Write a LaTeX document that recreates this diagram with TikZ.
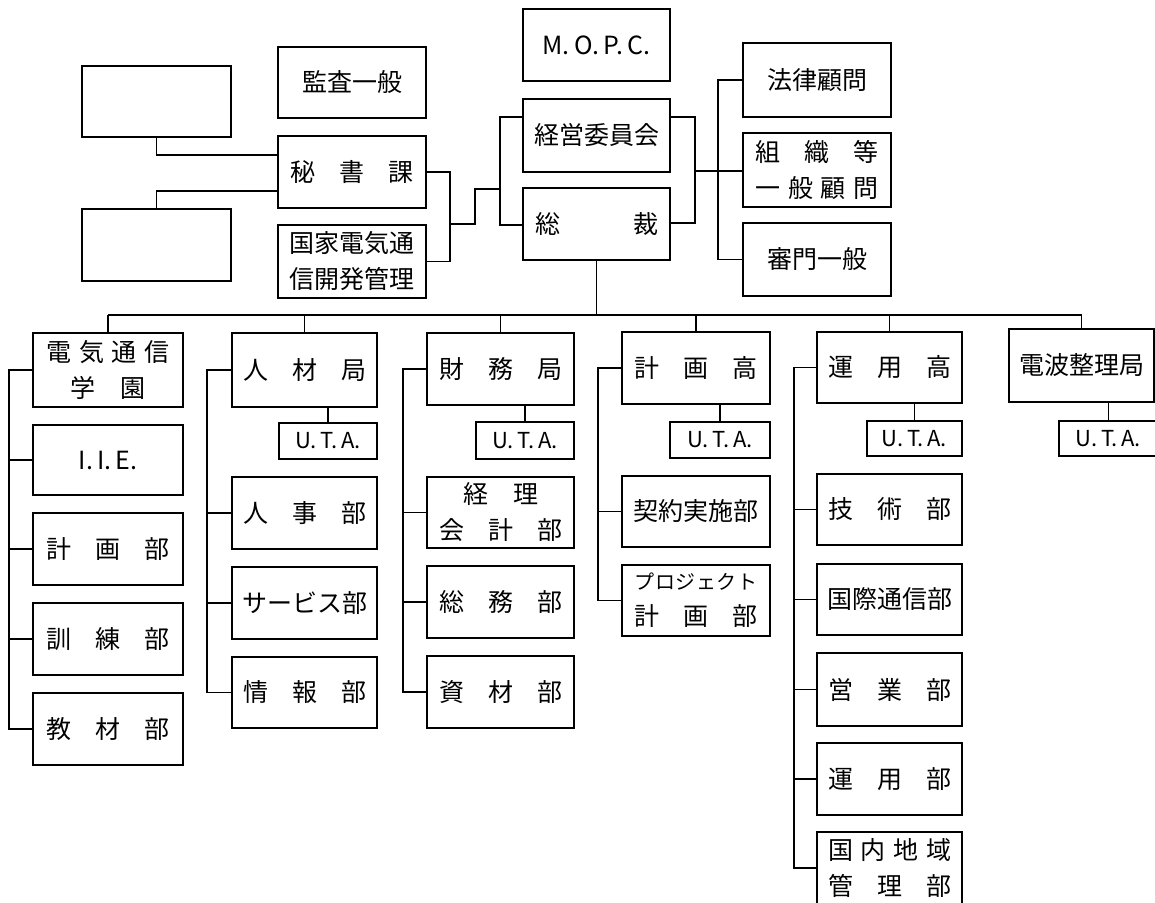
\documentclass[tikz,border=0pt]{standalone}
\usepackage{fontspec}
\setmainfont{Noto Sans CJK JP}
\usetikzlibrary{calc}
\newcommand\sprd[1]{\makebox[123pt]{#1}}
\newcommand\bbox[7]{\node[#1, minimum width={#5-#3}, minimum height={#6-#4}] (#2) at ({(#3+#5)/2},{(#4+#6)/2}) {#7};}
\tikzset{
  thinbox/.style={draw, line width=1.8pt, rectangle, inner sep=0pt, outer sep=0pt, font=\fontsize{25}{36}\selectfont, align=center},
  boss/.style={thinbox, line width=2.8pt},
  blank/.style={thinbox, line width=2.2pt},
  uta/.style={thinbox, font=\fontsize{22}{24}\selectfont},
  conn/.style={line width=1.4pt}
}
\begin{document}
\begin{tikzpicture}[x=1pt,y=-1pt]
\fill[white] (0,0) rectangle (1155,902);
\useasboundingbox (0,0) rectangle (1155,902);
% top part
\bbox{blank}{blankA}{82}{66}{231}{137}{}
\bbox{blank}{blankB}{82}{209}{231}{281}{}
\bbox{blank}{kansa}{278}{47}{426}{118}{監査一般}
\bbox{boss}{hisho}{278}{136}{426}{208}{\sprd{秘\hfill 書\hfill 課}}
\bbox{boss}{kokka}{278}{225}{426}{298}{国家電気通\\信開発管理}
\bbox{boss}{mopc}{523}{9}{670}{81}{M.\,O.\,P.\,C.}
\bbox{boss}{keiei}{523}{99}{670}{172}{経営委員会}
\bbox{boss}{sosai}{523}{188}{670}{260}{\sprd{総\hfill 裁}}
\bbox{boss}{horitsu}{743}{43}{891}{117}{法律顧問}
\bbox{boss}{soshiki}{743}{133}{891}{207}{\sprd{組\hfill 織\hfill 等}\\\sprd{一\hfill 般\hfill 顧\hfill 問}}
\bbox{boss}{shinmon}{743}{223}{891}{296}{審門一般}
% column 1
\bbox{boss}{gakuen}{33}{333}{183}{407}{\sprd{電\hfill 気\hfill 通\hfill 信}\\学\hspace{1em}園}
\bbox{thinbox}{iie}{33}{425}{183}{495}{I.\,I.\,E.}
\bbox{thinbox}{gkeikaku}{33}{513}{183}{585}{\sprd{計\hfill 画\hfill 部}}
\bbox{thinbox}{kunren}{33}{603}{183}{675}{\sprd{訓\hfill 練\hfill 部}}
\bbox{thinbox}{kyozai}{33}{693}{183}{765}{\sprd{教\hfill 材\hfill 部}}
% column 2
\bbox{boss}{jinzai}{232}{333}{377}{407}{\sprd{人\hfill 材\hfill 局}}
\bbox{uta}{uta2}{279}{423}{377}{459}{U.\,T.\,A.}
\bbox{thinbox}{jinji}{232}{477}{377}{549}{\sprd{人\hfill 事\hfill 部}}
\bbox{thinbox}{service}{232}{567}{377}{639}{サービス部}
\bbox{thinbox}{joho}{232}{657}{377}{728}{\sprd{情\hfill 報\hfill 部}}
% column 3
\bbox{boss}{zaimu}{427}{333}{574}{405}{\sprd{財\hfill 務\hfill 局}}
\bbox{uta}{uta3}{476}{422}{574}{459}{U.\,T.\,A.}
\bbox{thinbox}{keiri}{427}{477}{574}{548}{経\hspace{1em}理\\\sprd{会\hfill 計\hfill 部}}
\bbox{thinbox}{somu}{427}{566}{574}{638}{\sprd{総\hfill 務\hfill 部}}
\bbox{thinbox}{shizai}{427}{656}{574}{728}{\sprd{資\hfill 材\hfill 部}}
% column 4
\bbox{boss}{keikaku}{622}{332}{770}{404}{\sprd{計\hfill 画\hfill 高}}
\bbox{uta}{uta4}{670}{422}{770}{458}{U.\,T.\,A.}
\bbox{thinbox}{keiyaku}{622}{476}{770}{547}{契約実施部}
\bbox{thinbox}{project}{622}{565}{770}{636}{{\fontsize{20}{20}\selectfont\sprd{プ\hfill ロ\hfill ジ\hfill ェ\hfill ク\hfill ト}}\\\sprd{計\hfill 画\hfill 部}}
% column 5
\bbox{boss}{unyo}{817}{332}{962}{403}{\sprd{運\hfill 用\hfill 高}}
\bbox{uta}{uta5}{867}{421}{962}{456}{U.\,T.\,A.}
\bbox{thinbox}{gijutsu}{817}{474}{962}{545}{\sprd{技\hfill 術\hfill 部}}
\bbox{thinbox}{kokusai}{817}{564}{962}{635}{国際通信部}
\bbox{thinbox}{eigyo}{817}{653}{962}{726}{\sprd{営\hfill 業\hfill 部}}
\bbox{thinbox}{unyobu}{817}{743}{962}{815}{\sprd{運\hfill 用\hfill 部}}
\bbox{thinbox}{kokunai}{817}{832}{962}{904}{\sprd{国\hfill 内\hfill 地\hfill 域}\\\sprd{管\hfill 理\hfill 部}}
% column 6
\bbox{boss}{denpa}{1009}{329}{1154}{402}{電波整理局}
\bbox{uta}{uta6}{1059}{421}{1158}{456}{U.\,T.\,A.}
% connectors top
\draw[conn] (blankA.south) |- ($(hisho.west)+(0,-17)$);
\draw[conn] (blankB.north) |- ($(hisho.west)+(0,19)$);
\draw[conn] (hisho.east) -- ++(24,0) |- (kokka.east);
\coordinate (j1) at (450,224);
\coordinate (j2) at (500,189);
\draw[conn] (j1) -- ++(25,0) |- (j2);
\draw[conn] ($(keiei.west)+(0,-18.5)$) -| (j2) |- ($(sosai.west)+(0,1)$);
\draw[conn] ($(keiei.east)+(0,-18.5)$) -- ++(25,0) |- ($(sosai.east)+(0,-1)$);
\coordinate (j3) at (695,171);
\draw[conn] (j3) -- (soshiki.west |- j3);
\draw[conn] (horitsu.west) -- ++(-25,0) |- (shinmon.west);
% main bus
\coordinate (bus) at (0,315);
\draw[conn] (sosai.south) -- (sosai.south |- bus);
\draw[conn] (gakuen.north |- bus) -- (denpa.north |- bus);
\foreach \n in {gakuen,jinzai,zaimu,keikaku,unyo,denpa}
  \draw[conn] (\n.north) -- (\n.north |- bus);
\foreach \h/\u in {jinzai/uta2,zaimu/uta3,keikaku/uta4,unyo/uta5,denpa/uta6}
  \draw[conn] (\u.north) -- (\u.north |- \h.south);
% column buses
\draw[conn] (gakuen.west) -- ++(-24,0) |- (kyozai.west);
\foreach \c in {iie,gkeikaku,kunren} \draw[conn] (\c.west) -- ++(-24,0);
\draw[conn] (jinzai.west) -- ++(-25,0) |- (joho.west);
\foreach \c in {jinji,service} \draw[conn] (\c.west) -- ++(-25,0);
\draw[conn] (zaimu.west) -- ++(-24,0) |- (shizai.west);
\foreach \c in {keiri,somu} \draw[conn] (\c.west) -- ++(-24,0);
\draw[conn] (keikaku.west) -- ++(-24,0) |- (project.west);
\draw[conn] (keiyaku.west) -- ++(-24,0);
\draw[conn] (unyo.west) -- ++(-23,0) |- (kokunai.west);
\foreach \c in {gijutsu,kokusai,eigyo,unyobu} \draw[conn] (\c.west) -- ++(-23,0);
\end{tikzpicture}
\end{document}
